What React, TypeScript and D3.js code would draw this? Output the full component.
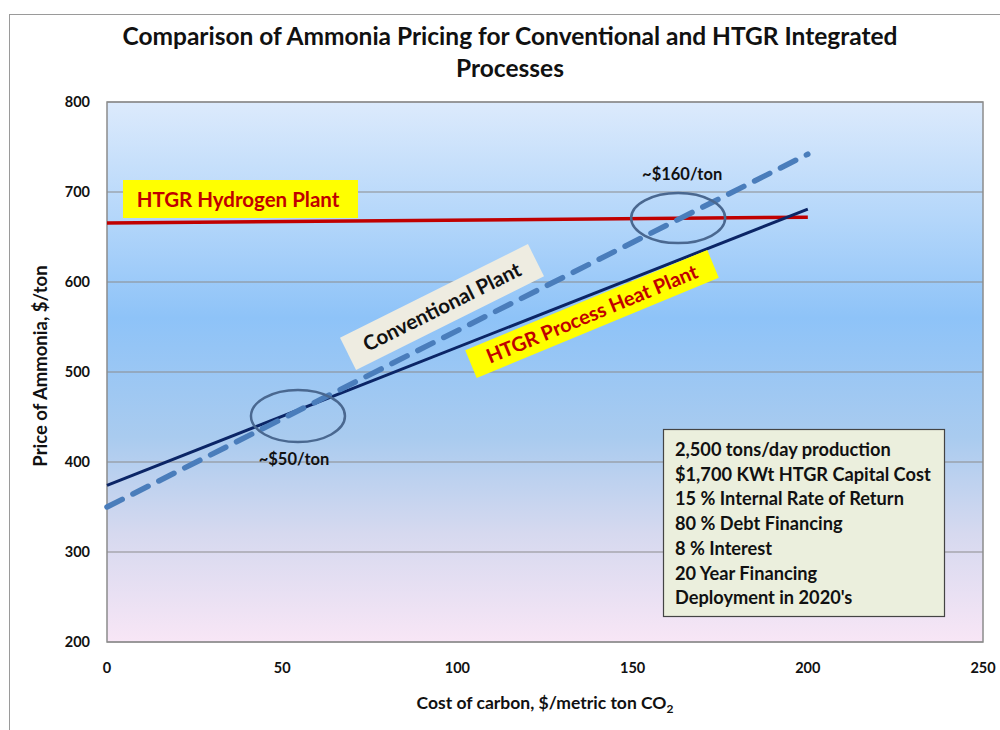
import React from "react";
import * as d3 from "d3";

const xTicks = [0, 50, 100, 150, 200, 250];
const yTicks = [200, 300, 400, 500, 600, 700, 800];

const hydrogenX = [0, 200];
const hydrogenY = [665.5, 672];
const processHeatX = [0, 200];
const processHeatY = [374, 681];
const conventionalX = [0, 200];
const conventionalY = [350, 742];

const ellipseCentersX = [54.5, 163];
const ellipseCentersY = [451, 671];
const ellipseLabels = ["~$50/ton", "~$160/ton"];

const noteLines = [
  "2,500 tons/day production",
  "$1,700 KWt HTGR Capital Cost",
  "15 % Internal Rate of Return",
  "80 % Debt  Financing",
  "8 % Interest",
  "20 Year Financing",
  "Deployment in 2020's",
];

const FONT = "Lato, 'Open Sans', sans-serif";

export default function App() {
  const W = 1000, H = 730;
  const left = 107, right = 983, top = 102, bottom = 642;
  const x = d3.scaleLinear().domain([0, 250]).range([left, right]);
  const y = d3.scaleLinear().domain([200, 800]).range([bottom, top]);
  const line = d3.line<[number, number]>().x(d => x(d[0])).y(d => y(d[1]));
  const pts = (xs: number[], ys: number[]) => xs.map((v, i) => [v, ys[i]] as [number, number]);

  const convAngle = -26.5;
  const heatAngle = -22.5;

  return (
    <svg width={W} height={H} style={{ display: "block", position: "absolute", left: 0, top: 0 }}>
      <defs>
        <linearGradient id="bg" x1="0" y1="0" x2="0" y2="1">
          <stop offset="0%" stopColor="#dceafc" />
          <stop offset="22%" stopColor="#b3d6fa" />
          <stop offset="40%" stopColor="#8ec3f8" />
          <stop offset="62%" stopColor="#a9cbef" />
          <stop offset="80%" stopColor="#d6d9ef" />
          <stop offset="100%" stopColor="#f8e6f6" />
        </linearGradient>
      </defs>
      <rect x={0} y={0} width={W} height={H} fill="#ffffff" />
      <rect x={9.5} y={14.5} width={1000} height={730} fill="none" stroke="#9a9a9a" strokeWidth={1} />

      {/* title */}
      <text x={510} y={45} textAnchor="middle" fontFamily={FONT} fontWeight="bold" fontSize={24.5} fill="#111"
        textLength={775} lengthAdjust="spacingAndGlyphs">
        Comparison of Ammonia Pricing for Conventional and HTGR Integrated
      </text>
      <text x={510} y={77} textAnchor="middle" fontFamily={FONT} fontWeight="bold" fontSize={24.5} fill="#111">
        Processes
      </text>

      {/* plot background */}
      <rect x={left} y={top} width={right - left} height={bottom - top} fill="url(#bg)" />
      {yTicks.map(t => (
        <line key={t} x1={left} x2={right} y1={y(t)} y2={y(t)} stroke="#8c8c8c" strokeWidth={1.2} />
      ))}
      <rect x={left} y={top} width={right - left} height={bottom - top} fill="none" stroke="#8c8c8c" strokeWidth={1.5} />

      {/* y ticks */}
      {yTicks.map(t => (
        <text key={t} x={90} y={y(t) + 5} textAnchor="end" fontFamily={FONT} fontWeight="bold" fontSize={14.5} fill="#111">
          {t}
        </text>
      ))}
      {/* x ticks */}
      {xTicks.map(t => (
        <text key={t} x={x(t)} y={673} textAnchor="middle" fontFamily={FONT} fontWeight="bold" fontSize={14.5} fill="#111">
          {t}
        </text>
      ))}
      <text transform={`translate(47,${366}) rotate(-90)`} textAnchor="middle" fontFamily={FONT} fontWeight="bold" fontSize={18.5} fill="#111">
        Price of Ammonia, $/ton
      </text>
      <text x={545} y={709} textAnchor="middle" fontFamily={FONT} fontWeight="bold" fontSize={17.5} fill="#111">
        Cost of carbon, $/metric ton CO<tspan fontSize={12} dy={4}>2</tspan>
      </text>

      {/* lines */}
      <path d={line(pts(hydrogenX, hydrogenY)) || ""} fill="none" stroke="#c00000" strokeWidth={3.5} />
      <path d={line(pts(processHeatX, processHeatY)) || ""} fill="none" stroke="#0b2566" strokeWidth={3} />
      <path d={line(pts(conventionalX, conventionalY)) || ""} fill="none" stroke="#4a7dbb" strokeWidth={5.5}
        strokeDasharray="17 12" strokeLinecap="round" />

      {/* ellipses */}
      {ellipseCentersX.map((cx, i) => (
        <ellipse key={i} cx={x(cx)} cy={y(ellipseCentersY[i])} rx={47} ry={i === 0 ? 26 : 25}
          fill="none" stroke="#4a6890" strokeWidth={2.5} />
      ))}
      <text x={x(ellipseCentersX[0]) - 4} y={465} textAnchor="middle" fontFamily={FONT} fontWeight="bold" fontSize={16.5} fill="#111">
        {ellipseLabels[0]}
      </text>
      <text x={x(ellipseCentersX[1]) + 4} y={180} textAnchor="middle" fontFamily={FONT} fontWeight="bold" fontSize={16.5} fill="#111">
        {ellipseLabels[1]}
      </text>

      {/* HTGR Hydrogen Plant label */}
      <rect x={123} y={180} width={235} height={38} fill="#ffff00" />
      <text x={238} y={207} textAnchor="middle" fontFamily={FONT} fontWeight="bold" fontSize={20.5} fill="#c00000">
        HTGR Hydrogen  Plant
      </text>

      {/* Conventional Plant label */}
      <g transform={`translate(442,307) rotate(${convAngle})`}>
        <rect x={-105} y={-18} width={210} height={36} fill="#eeece1" />
        <text x={0} y={7} textAnchor="middle" fontFamily={FONT} fontWeight="bold" fontSize={20.5} fill="#111">
          Conventional  Plant
        </text>
      </g>

      {/* HTGR Process Heat Plant label */}
      <g transform={`translate(592,314) rotate(${heatAngle})`}>
        <rect x={-131} y={-15} width={262} height={30} fill="#ffff00" />
        <text x={0} y={7} textAnchor="middle" fontFamily={FONT} fontWeight="bold" fontSize={20} fill="#c00000">
          HTGR Process Heat Plant
        </text>
      </g>

      {/* notes box */}
      <rect x={663.5} y={429.5} width={281} height={187} fill="#ebefdd" stroke="#444" strokeWidth={1.2} />
      {noteLines.map((s, i) => (
        <text key={i} x={675} y={456 + i * 24.7} fontFamily={FONT} fontWeight="bold" fontSize={18.2} fill="#111">
          {s}
        </text>
      ))}
    </svg>
  );
}
